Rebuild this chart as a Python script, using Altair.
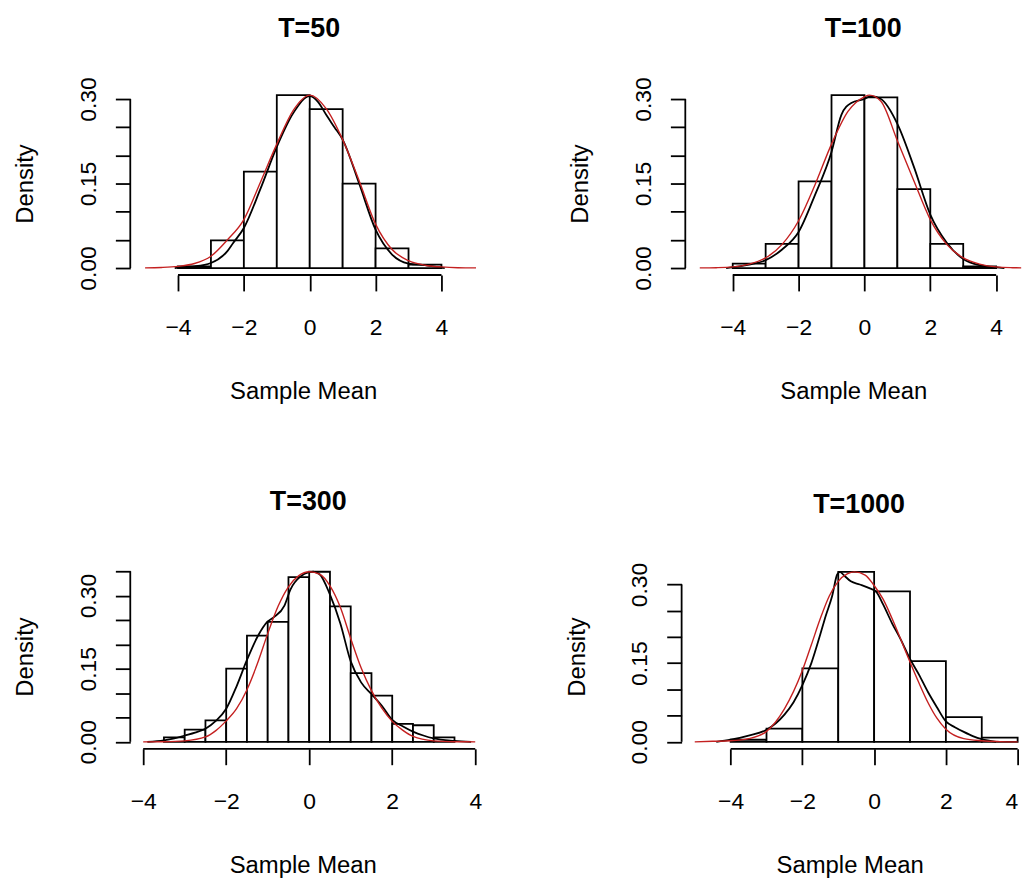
import altair as alt
import pandas as pd

FONT = "Liberation Sans"
RED = "#c42020"

# ---------------- data ----------------
x_ticks = [-4, -2, 0, 2, 4]
y_ticks_030 = [0, 0.05, 0.10, 0.15, 0.20, 0.25, 0.30]
y_ticks_035 = [0, 0.05, 0.10, 0.15, 0.20, 0.25, 0.30, 0.35]

# T=50
t50_breaks = [-4, -3, -2, -1, 0, 1, 2, 3, 4]
t50_density = [0.003, 0.049, 0.171, 0.307, 0.282, 0.150, 0.035, 0.006]
t50_kde_x = [-4.1, -3.75, -3.5, -3, -2.5, -2.33, -2, -1.5, -1, -0.5, 0, 0.25, 0.5, 0.75, 1, 1.5, 2, 2.5, 3, 3.5, 3.75, 4.1]
t50_kde_y = [0.000, 0.002, 0.003, 0.009, 0.030, 0.044, 0.071, 0.140, 0.215, 0.275, 0.305, 0.295, 0.272, 0.250, 0.228, 0.150, 0.068, 0.024, 0.008, 0.005, 0.003, 0.000]
t50_norm_x = [-5, -4.5, -4, -3.5, -3, -2.5, -2, -1.5, -1, -0.5, 0, 0.5, 1, 1.5, 2, 2.5, 3, 3.5, 4, 4.5, 5.05]
t50_norm_y = [0.0003, 0.001, 0.003, 0.008, 0.021, 0.050, 0.086, 0.152, 0.220, 0.280, 0.307, 0.283, 0.228, 0.155, 0.078, 0.033, 0.013, 0.005, 0.002, 0.0006, 0.0002]

# T=100
t100_breaks = [-4, -3, -2, -1, 0, 1, 2, 3, 4]
t100_density = [0.008, 0.043, 0.154, 0.307, 0.303, 0.140, 0.043, 0.003]
t100_kde_x = [-4.2, -3.5, -3, -2.5, -2, -1.5, -1, -0.7, -0.4, 0, 0.2, 0.5, 1, 1.5, 2, 2.5, 3, 3.5, 4.25]
t100_kde_y = [0.000, 0.006, 0.014, 0.033, 0.064, 0.130, 0.206, 0.272, 0.293, 0.300, 0.305, 0.300, 0.256, 0.180, 0.095, 0.045, 0.016, 0.005, 0.000]
t100_norm_x = [-5, -4.5, -4, -3.5, -3, -2.5, -2, -1.5, -1, -0.5, 0, 0.15, 0.5, 1, 1.5, 2, 2.5, 3, 3.5, 4, 4.5, 4.76]
t100_norm_y = [0.0002, 0.0006, 0.002, 0.007, 0.018, 0.042, 0.084, 0.148, 0.220, 0.278, 0.304, 0.307, 0.296, 0.226, 0.155, 0.086, 0.042, 0.018, 0.007, 0.002, 0.0006, 0.0003]

# T=300
t300_breaks = [-3.5, -3, -2.5, -2, -1.5, -1, -0.5, 0, 0.5, 1, 1.5, 2, 2.5, 3, 3.5]
t300_density = [0.009, 0.025, 0.044, 0.150, 0.218, 0.246, 0.338, 0.349, 0.278, 0.141, 0.095, 0.037, 0.034, 0.009]
t300_kde_x = [-3.9, -3.5, -3.25, -3, -2.75, -2.5, -2.25, -2, -1.75, -1.5, -1.25, -1, -0.85, -0.6, -0.45, -0.2, 0, 0.1, 0.25, 0.5, 0.75, 1, 1.25, 1.5, 1.75, 2, 2.25, 2.5, 2.75, 3, 3.5, 3.9]
t300_kde_y = [0.000, 0.003, 0.007, 0.013, 0.019, 0.027, 0.043, 0.068, 0.114, 0.168, 0.215, 0.247, 0.256, 0.279, 0.313, 0.340, 0.348, 0.349, 0.344, 0.302, 0.243, 0.165, 0.122, 0.098, 0.074, 0.045, 0.032, 0.021, 0.013, 0.007, 0.002, 0.000]
t300_norm_x = [-4, -3.5, -3, -2.5, -2.25, -2, -1.75, -1.5, -1.25, -1, -0.75, -0.5, -0.25, 0, 0.25, 0.5, 0.75, 1, 1.25, 1.5, 1.75, 2, 2.25, 2.5, 3, 3.5, 4]
t300_norm_y = [0.000, 0.0003, 0.002, 0.010, 0.023, 0.043, 0.068, 0.107, 0.160, 0.222, 0.278, 0.318, 0.341, 0.349, 0.344, 0.320, 0.276, 0.212, 0.152, 0.105, 0.069, 0.042, 0.024, 0.011, 0.002, 0.0003, 0.000]

# T=1000
t1000_breaks = [-4, -3, -2, -1, 0, 1, 2, 3, 4]
t1000_density = [0.004, 0.025, 0.140, 0.324, 0.287, 0.154, 0.047, 0.008]
t1000_kde_x = [-4.4, -4, -3.5, -3, -2.5, -2.25, -2, -1.75, -1.5, -1.35, -1.17, -1.03, -0.95, -0.85, -0.65, -0.4, -0.1, 0.05, 0.25, 0.5, 0.75, 1, 1.25, 1.5, 1.75, 2, 2.25, 2.5, 2.75, 3, 3.4]
t1000_kde_y = [0.000, 0.004, 0.012, 0.023, 0.052, 0.075, 0.108, 0.150, 0.205, 0.240, 0.278, 0.319, 0.324, 0.318, 0.306, 0.300, 0.292, 0.287, 0.262, 0.226, 0.194, 0.158, 0.128, 0.095, 0.066, 0.039, 0.028, 0.019, 0.011, 0.005, 0.000]
t1000_norm_x = [-5, -4.5, -4, -3.5, -3, -2.5, -2, -1.75, -1.5, -1.25, -1, -0.75, -0.55, -0.25, 0, 0.25, 0.5, 0.75, 1, 1.25, 1.5, 1.75, 2, 2.5, 3, 3.5, 4]
t1000_norm_y = [0.000, 0.001, 0.002, 0.006, 0.020, 0.063, 0.136, 0.185, 0.235, 0.278, 0.306, 0.320, 0.324, 0.318, 0.298, 0.272, 0.235, 0.194, 0.152, 0.112, 0.075, 0.045, 0.024, 0.006, 0.002, 0.0005, 0.000]

# ---------------- chart building ----------------
label_expr = ("(abs(datum.value - 0) < 1e-9 || abs(datum.value - 0.15) < 1e-9 || "
              "abs(datum.value - 0.3) < 1e-9) ? format(datum.value, '.2f') : ''")


def panel(title, breaks, dens, kx, ky, nx, ny, xdom, width, ydom, height, yticks,
          title_offset, title_dx, flush=False):
    bars = pd.DataFrame({"lo": breaks[:-1], "hi": breaks[1:], "d": dens})
    kde = pd.DataFrame({"x": kx, "y": ky})
    norm = pd.DataFrame({"x": nx, "y": ny})
    xline = pd.DataFrame({"a": [x_ticks[0]], "b": [x_ticks[-1]]})
    yline = pd.DataFrame({"a": [yticks[0]], "b": [yticks[-1]]})

    xscale = alt.Scale(domain=xdom, nice=False, zero=False)
    yscale = alt.Scale(domain=ydom, nice=False, zero=False)
    xaxis = alt.Axis(values=x_ticks, title="Sample Mean", grid=False, domain=False,
                     offset=7, tickSize=16, tickWidth=1.8, tickColor="black",
                     labelFont=FONT, labelFontSize=23, labelColor="black",
                     labelPadding=26, labelFlush=(2 if flush else False), labelOverlap=False,
                     titleFont=FONT, titleFontSize=24, titleFontWeight="normal",
                     titleColor="black", titlePadding=40)
    yaxis = alt.Axis(values=yticks, title="Density", grid=False, domain=False,
                     offset=0, tickSize=15, tickWidth=1.8, tickColor="black",
                     labelExpr=label_expr, labelAngle=270, labelAlign="center",
                     labelBaseline="bottom",
                     labelFont=FONT, labelFontSize=23, labelColor="black",
                     labelPadding=15, labelFlush=False, labelOverlap=False,
                     titleFont=FONT, titleFontSize=24, titleFontWeight="normal",
                     titleColor="black", titlePadding=40)

    hist = alt.Chart(bars).mark_rect(fill="white", stroke="black", strokeWidth=1.8).encode(
        x=alt.X("lo:Q", scale=xscale, axis=xaxis),
        x2="hi:Q",
        y=alt.Y("d:Q", scale=yscale, axis=yaxis),
        y2=alt.datum(0),
    )
    kline = alt.Chart(kde).mark_line(color="black", strokeWidth=1.8, interpolate="monotone").encode(
        x=alt.X("x:Q", scale=xscale, axis=xaxis),
        y=alt.Y("y:Q", scale=yscale, axis=yaxis),
    )
    nline = alt.Chart(norm).mark_line(color=RED, strokeWidth=1.4, interpolate="monotone").encode(
        x=alt.X("x:Q", scale=xscale, axis=xaxis),
        y=alt.Y("y:Q", scale=yscale, axis=yaxis),
    )
    # R-style axis lines that only span the tick range
    xrule = alt.Chart(xline).mark_rule(color="black", strokeWidth=1.8).encode(
        x=alt.X("a:Q", scale=xscale, axis=xaxis), x2="b:Q", y=alt.value(height + 7),
    )
    yrule = alt.Chart(yline).mark_rule(color="black", strokeWidth=1.8).encode(
        y=alt.Y("a:Q", scale=yscale, axis=yaxis), y2="b:Q", x=alt.value(0),
    )
    return alt.layer(hist, kline, nline, xrule, yrule).properties(
        width=width, height=height,
        title=alt.TitleParams(text=title, font=FONT, fontSize=27, fontWeight="bold",
                              color="black", anchor="middle", frame="group",
                              offset=title_offset, dx=title_dx),
    )


p1 = panel("T=50", t50_breaks, t50_density, t50_kde_x, t50_kde_y, t50_norm_x, t50_norm_y,
           [-5.449, 5.05], 347.8, [0, 0.30], 170, y_ticks_030, 34, 6)
p2 = panel("T=100", t100_breaks, t100_density, t100_kde_x, t100_kde_y, t100_norm_x, t100_norm_y,
           [-5.44, 4.764], 338, [0, 0.30], 170, y_ticks_030, 34, 10)
p3 = panel("T=300", t300_breaks, t300_density, t300_kde_x, t300_kde_y, t300_norm_x, t300_norm_y,
           [-4.311, 4.0], 347, [0, 0.35], 171.6, y_ticks_035, 52.7, 5.5)
p4 = panel("T=1000", t1000_breaks, t1000_density, t1000_kde_x, t1000_kde_y, t1000_norm_x, t1000_norm_y,
           [-5.366, 4.0], 338, [0, 0.3252], 171.6, y_ticks_030, 43.6, 9.5, flush=True)

chart = alt.vconcat(
    alt.hconcat(p1, p2, spacing=89.3),
    alt.hconcat(p3, p4, spacing=83.6),
    spacing=85,
).properties(
    padding={"left": 5, "top": 4, "right": 0, "bottom": 0},
    background="white",
).configure_view(stroke=None)

chart.save("out.html", embed_options={"renderer": "svg", "actions": False})
